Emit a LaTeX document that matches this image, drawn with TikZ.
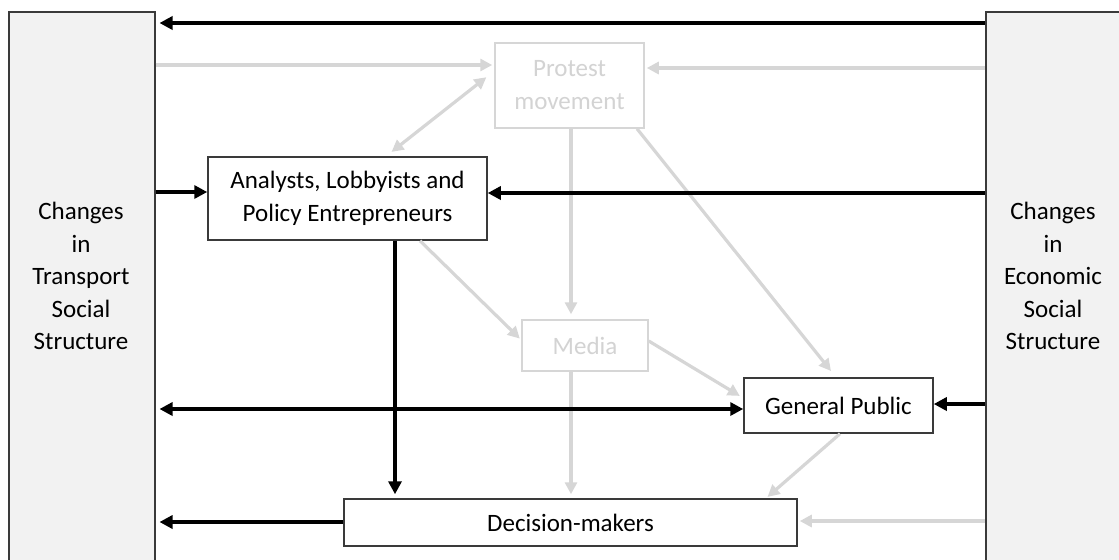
\documentclass[tikz,border=0pt]{standalone}
\usepackage{fontspec}
\setmainfont{Carlito}
\usetikzlibrary{arrows.meta,calc}

\definecolor{edgegray}{HTML}{D6D6D6}
\definecolor{fadetext}{HTML}{D3D3D3}
\definecolor{panelfill}{HTML}{F2F2F2}
\definecolor{boxline}{HTML}{3A3A3A}

\begin{document}
\begin{tikzpicture}[x=0.5pt,y=-0.5pt,
  font=\fontsize{12.5}{16.5}\selectfont,
  panel/.style={draw=boxline, line width=0.75pt, fill=panelfill, inner sep=0pt, anchor=north west},
  paneltext/.style={align=center, inner sep=0pt, font=\fontsize{12.5}{16.2}\selectfont},
  actor/.style={draw=boxline, line width=0.75pt, fill=white, inner sep=0pt, align=center},
  faded/.style={draw=edgegray, line width=0.75pt, fill=white, inner sep=0pt, align=center, text=fadetext},
  blk/.style={line width=1.85pt, draw=black, -{Triangle[length=6.5pt,width=6.5pt]}},
  blkboth/.style={line width=1.85pt, draw=black, {Triangle[length=6.5pt,width=6.5pt]}-{Triangle[length=6.5pt,width=6.5pt]}},
  gry/.style={line width=1.6pt, draw=edgegray, -{Triangle[length=6pt,width=6pt]}},
  gryboth/.style={line width=1.6pt, draw=edgegray, {Triangle[length=6pt,width=6pt]}-{Triangle[length=6pt,width=6pt]}},
]
\useasboundingbox (0,0) rectangle (1119,559);
\clip (0,0) rectangle (1119,559);

% side panels (they run past the lower and right edges)
\node[panel, minimum width=73pt, minimum height=290pt] (lp) at (8,11) {};
\node[panel, minimum width=68pt, minimum height=290pt] (rp) at (985,11) {};
\node[paneltext] (lpt) at (81,276) {Changes\\in\\Transport\\Social\\Structure};
\node[paneltext] (rpt) at (1053,276) {Changes\\in\\Economic\\Social\\Structure};

% actors
\node[faded, minimum width=74.5pt, minimum height=42.5pt] (pm) at (569.5,85.5) {Protest\\movement};
\node[actor, minimum width=139.5pt, minimum height=41.5pt] (an) at (347.5,198.5) {Analysts, Lobbyists and\\Policy Entrepreneurs};
\node[faded, minimum width=63pt, minimum height=25.5pt] (md) at (585,345.5) {Media};
\node[actor, minimum width=94.5pt, minimum height=27.5pt] (gp) at (838.5,405.5) {General Public};
\node[actor, minimum width=226.5pt, minimum height=23.5pt] (dm) at (570.5,522.5) {Decision-makers};

% light connectors
\draw[gry, shorten >=1pt] (lp.east |- 0,65) -- (pm.west |- 0,65);
\draw[gry, shorten >=1pt] (rp.west |- 0,68) -- (pm.east |- 0,68);
\draw[gryboth, shorten <=3.5pt, shorten >=5pt] (an.north -| 386,0) -- (pm.west |- 0,71);
\draw[gry, shorten >=2.5pt] (pm.south -| 571,0) -- (md.north -| 571,0);
\draw[gry, shorten >=4pt] (pm.south -| 637,0) -- (gp.north -| 836,0);
\draw[gry, shorten >=1pt] (an.south -| 420,0) -- (md.west |- 0,340);
\draw[gry, shorten >=2pt] (md.east |- 0,341) -- (gp.west |- 0,398);
\draw[gry, shorten >=2pt] (md.south -| 571,0) -- (dm.north -| 571,0);
\draw[gry, shorten >=1pt] (gp.south -| 840,0) -- (dm.north -| 766,0);
\draw[gry, shorten >=1pt] (rp.west |- 0,521) -- (dm.east |- 0,521);

% dark connectors
\draw[blk, shorten >=2pt] (rp.west |- 0,23) -- (lp.east |- 0,23);
\draw[blk] (lp.east |- 0,192) -- (an.west |- 0,192);
\draw[blk] (rp.west |- 0,193) -- (an.east |- 0,193);
\draw[blk, shorten >=2pt] (an.south -| 395,0) -- (dm.north -| 395,0);
\draw[blkboth, shorten <=2pt] (lp.east |- 0,409) -- (gp.west |- 0,409);
\draw[blk] (rp.west |- 0,404) -- (gp.east |- 0,404);
\draw[blk, shorten >=2pt] (dm.west |- 0,522) -- (lp.east |- 0,522);
\end{tikzpicture}
\end{document}
